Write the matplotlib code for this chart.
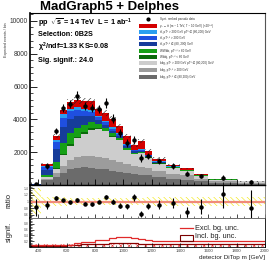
import numpy as np
import matplotlib
matplotlib.use("Agg")
import matplotlib.pyplot as plt
from matplotlib.patches import Rectangle
from matplotlib.lines import Line2D

plt.rcParams['font.family'] = ['Liberation Sans', 'DejaVu Sans']
plt.rcParams['hatch.linewidth'] = 0.4
plt.rcParams['mathtext.fontset'] = 'custom'
plt.rcParams['mathtext.rm'] = 'Liberation Sans'
plt.rcParams['mathtext.bf'] = 'Liberation Sans:bold'
plt.rcParams['mathtext.it'] = 'Liberation Sans:italic'

# ---------------- data ----------------
edges = [340, 420, 500, 550, 600, 650, 700, 750, 800, 850, 900, 950, 1000,
         1050, 1100, 1150, 1200, 1300, 1400, 1500, 1600, 1800, 2000]

bkg_dgray = [15, 280, 500, 750, 950, 1050, 1080, 1050, 1000, 950, 880, 800, 720,
             650, 620, 580, 480, 380, 320, 220, 120, 80]
bkg_mgray = [5, 100, 250, 400, 550, 650, 700, 720, 720, 700, 650, 620, 560,
             500, 480, 430, 380, 320, 260, 170, 100, 70]
bkg_lgray = [5, 80, 250, 650, 900, 1150, 1350, 1600, 1700, 1620, 1420, 1300, 850,
             720, 830, 650, 450, 340, 280, 180, 105, 70]
wbb_dkgreen = [2, 40, 60, 100, 110, 100, 90, 80, 60, 50, 50, 40, 30,
               25, 25, 20, 15, 10, 10, 5, 3, 2]
wwbb_green = [3, 120, 350, 650, 650, 550, 450, 370, 250, 170, 170, 130, 100,
              80, 70, 55, 40, 25, 25, 15, 8, 5]
tt_navy = [5, 300, 800, 1000, 850, 700, 550, 400, 220, 180, 130, 110, 90,
           70, 60, 45, 30, 20, 20, 10, 6, 4]
tt_blue = [2, 150, 400, 560, 470, 380, 300, 250, 180, 140, 120, 100, 80,
           60, 60, 40, 30, 20, 15, 10, 5, 3]
tt_lblue = [1, 60, 150, 220, 180, 150, 130, 110, 100, 100, 90, 80, 60,
            45, 45, 30, 25, 15, 10, 5, 3, 2]
signal_red = [2, 140, 230, 230, 390, 420, 460, 530, 420, 490, 540, 410, 500,
              300, 510, 230, 150, 80, 70, 35, 10, 4]

data_vals = [33, 1150, 3300, 4700, 4950, 5450, 4800, 4700, 4650, 4980, 4050, 3150, 2550,
             2760, 1650, 1780, 1450, 1160, 700, 550, 440, 195]
data_errs = [10, 150, 200, 250, 250, 300, 250, 250, 250, 300, 250, 250, 250,
             250, 250, 200, 200, 180, 150, 150, 150, 130]

ratio_band = [0.40, 0.15, 0.15, 0.13, 0.12, 0.12, 0.12, 0.12, 0.12, 0.12, 0.12, 0.12, 0.12,
              0.12, 0.12, 0.13, 0.13, 0.14, 0.14, 0.15, 0.15, 0.15]

signif_excl = [0.07, 0.07, 0.07, 0.07, 0.07, 0.13, 0.18, 0.18, 0.24, 0.24, 0.32, 0.33, 0.33,
               0.30, 0.27, 0.25, 0.20, 0.20, 0.20, 0.20, 0.20, 0.20]
signif_incl = [0.03, 0.03, 0.04, 0.05, 0.06, 0.08, 0.10, 0.10, 0.12, 0.12, 0.14, 0.14, 0.14,
               0.13, 0.12, 0.11, 0.09, 0.09, 0.09, 0.09, 0.09, 0.09]

legend_labels = [
    "Synt. ranked pseudo data",
    "y₁ → t̄t (m ~ 1 TeV, Γ ~ 10 GeV) (×20¹ᐟ²)",
    "tt̄, pT¹ > 200 GeV pT² ∈ (80,200) GeV",
    "tt̄, pT¹˒² > 200 GeV",
    "tt̄, pT¹˒² ∈ (80, 200) GeV",
    "WWbb, pT¹˒² > 60 GeV",
    "Wbbj, pT¹˒² < 60 GeV",
    "bkg, pT¹ > 200 GeV pT² ∈ (80,200) GeV",
    "bkg, pT¹˒² > 200 GeV",
    "bkg, pT¹˒² ∈ (80,200) GeV",
]

main_yticks = [2000, 4000, 6000, 8000, 10000]
bottom_xticks = [400, 600, 800, 1000, 1200, 1400, 1600, 1800, 2000]

# ---------------- figure ----------------
W, H = 274, 267
fig = plt.figure(figsize=(W / 100, H / 100), dpi=100)

def fa(x0, y0, x1, y1):
    return [x0 / W, 1 - y1 / H, (x1 - x0) / W, (y1 - y0) / H]

ax = fig.add_axes(fa(30, 13, 265, 185))
axr = fig.add_axes(fa(30, 185, 265, 218))
axs = fig.add_axes(fa(30, 218, 265, 247))

edges_a = np.array(edges, float)
centers = 0.5 * (edges_a[1:] + edges_a[:-1])

layers = [
    (bkg_dgray, '#6b6b6b'),
    (bkg_mgray, '#9c9c9c'),
    (bkg_lgray, '#cdcdcd'),
    (wbb_dkgreen, '#0b6a0b'),
    (wwbb_green, '#16a016'),
    (tt_navy, '#163c9a'),
    (tt_blue, '#1f4fe0'),
    (tt_lblue, '#2a9ef0'),
    (signal_red, '#d40000'),
]
base = np.zeros(len(edges) - 1)
for vals, col in layers:
    v = np.array(vals, float)
    ax.stairs(base + v, edges_a, baseline=base, fill=True, color=col, lw=0)
    base = base + v
total = base

unc = 0.035 * total + 20
ax.stairs(total + unc, edges_a, baseline=total - unc, fill=True,
          facecolor='none', edgecolor='#222222', hatch='//////', lw=0)

dv = np.array(data_vals, float)
de = np.array(data_errs, float)
ax.errorbar(centers, dv, yerr=de, fmt='o', ms=2.2, color='black',
            elinewidth=0.8, capsize=0)

ax.set_xlim(edges[0], edges[-1])
ax.set_ylim(0, 10480)
ax.set_yticks(main_yticks)
ax.set_yticks(np.arange(400, 10480, 400), minor=True)
ax.set_xticks(bottom_xticks)
ax.set_xticks(np.arange(350, 2001, 50), minor=True)
ax.tick_params(axis='both', which='both', direction='in', top=False, right=False)
ax.tick_params(axis='y', which='major', length=5, width=0.6, labelsize=4.8, pad=1.5, labelcolor='#333333')
ax.tick_params(axis='y', which='minor', length=2.5, width=0.5)
ax.tick_params(axis='x', which='major', length=4, width=0.6, labelbottom=False)
ax.tick_params(axis='x', which='minor', length=2, width=0.5)
for s in ['top', 'right', 'bottom']:
    ax.spines[s].set_linewidth(0.8)
ax.spines['left'].set_linewidth(1.2)
ax.spines['right'].set_color('#555555')

ax.text(4 / W, 1 - 40 / H, "Expected events / bin", transform=fig.transFigure,
        rotation=90, fontsize=2.6, ha='left', va='center', color='#333333')

fig.text(109 / W, 1 - 7 / H, "MadGraph5 + Delphes", fontsize=9.5, fontweight='bold',
         ha='center', va='center')

tx = 38 / W
fig.text(tx, 1 - 23 / H, "pp  $\\sqrt{\\mathbf{s}}$ = 14 TeV  L = 1 ab$^{\\mathbf{-1}}$",
         fontsize=5.2, fontweight='bold', va='center')
fig.text(tx, 1 - 35 / H, "Selection: 0B2S", fontsize=5.2, fontweight='bold', va='center')
fig.text(tx, 1 - 47 / H, "$\\mathbf{\\chi^2}$/ndf=1.33 KS=0.08", fontsize=5.2,
         fontweight='bold', va='center')
fig.text(tx, 1 - 60 / H, "Sig. signif.: 24.0", fontsize=5.2, fontweight='bold', va='center')

# legend
leg_rows = [19.3, 26, 32.3, 38.3, 44.3, 51, 57.3, 63.3, 70, 76.7]
leg_cols = ['#d40000', '#2a9ef0', '#1f4fe0', '#163c9a', '#16a016', '#0b6a0b',
            '#cdcdcd', '#9c9c9c', '#6b6b6b']
for i, (yy, lab) in enumerate(zip(leg_rows, legend_labels)):
    yf = 1 - yy / H
    if i == 0:
        fig.add_artist(Line2D([148 / W], [yf], marker='o', ms=2.0, color='k',
                              transform=fig.transFigure))
    else:
        fig.add_artist(Rectangle((139 / W, yf - 2.0 / H), 18 / W, 4.0 / H,
                                 transform=fig.transFigure, facecolor=leg_cols[i - 1],
                                 edgecolor='none'))
    fig.text(160 / W, yf, lab, fontsize=2.2, va='center', color='#333333')

# ---------------- ratio ----------------
rb = np.array(ratio_band)
axr.stairs(1 + rb, edges_a, baseline=1 - rb, fill=True, facecolor='none',
           edgecolor='#f2e600', hatch='\\\\\\\\\\\\', lw=0)
axr.axhline(1.0, color='#f08a7a', lw=1.6)
ratio = dv / total
rerr = de / total
axr.errorbar(centers, ratio, yerr=rerr, fmt='o', ms=2.2, color='black',
             elinewidth=0.8, capsize=0)
axr.set_xlim(edges[0], edges[-1])
axr.set_ylim(0.5, 1.5)
axr.set_yticks([0.6, 0.8, 1.0, 1.2, 1.4])
axr.set_yticks(np.arange(0.55, 1.5, 0.05), minor=True)
axr.set_yticklabels(['0.6', '0.8', '1', '1.2', '1.4'])
axr.set_xticks(bottom_xticks)
axr.set_xticks(np.arange(350, 2001, 50), minor=True)
axr.tick_params(axis='both', which='both', direction='in', labelbottom=False)
axr.tick_params(axis='y', which='major', length=3, width=0.5, labelsize=2.4, pad=1,
                labelcolor='#555555')
axr.tick_params(axis='y', which='minor', length=1.5, width=0.4)
axr.tick_params(axis='x', which='major', length=3, width=0.5)
axr.tick_params(axis='x', which='minor', length=1.5, width=0.4)
axr.spines['left'].set_linewidth(1.2)
axr.spines['top'].set_linewidth(1.0)
axr.spines['bottom'].set_color('#555555')
axr.spines['right'].set_color('#777777')
for s in ['bottom', 'right']:
    axr.spines[s].set_linewidth(0.6)
fig.text(9 / W, 1 - 201 / H, "ratio", rotation=90, fontsize=5.5, ha='center',
         va='center', color='#222222')

# ---------------- significance ----------------
axs.stairs(np.full(len(edges) - 1, 0.09), edges_a, baseline=0.0, fill=True,
           facecolor='none', edgecolor='#e03030', hatch='xxxx', lw=0)
axs.stairs(signif_incl, edges_a, color='#8b0000', lw=0.9, baseline=None)
axs.stairs(signif_excl, edges_a, color='#e02a2a', lw=0.9, baseline=None)
axs.set_xlim(edges[0], edges[-1])
axs.set_ylim(0, 1.0)
axs.set_yticks([0.2, 0.4, 0.6, 0.8])
axs.set_yticks(np.arange(0.05, 1.0, 0.05), minor=True)
axs.set_xticks(bottom_xticks)
axs.set_xticks(np.arange(350, 2001, 50), minor=True)
axs.tick_params(axis='both', which='both', direction='in')
axs.tick_params(axis='y', which='major', length=3, width=0.5, labelsize=2.4, pad=1,
                labelcolor='#555555')
axs.tick_params(axis='y', which='minor', length=1.5, width=0.4)
axs.tick_params(axis='x', which='major', length=3, width=0.5, labelsize=3.2, pad=1.2,
                labelcolor='#444444')
axs.tick_params(axis='x', which='minor', length=1.5, width=0.4)
axs.spines['left'].set_linewidth(1.2)
for s in ['top', 'bottom', 'right']:
    axs.spines[s].set_linewidth(0.6)
axs.spines['top'].set_color('#555555')
fig.text(9 / W, 1 - 232 / H, "signif.", rotation=90, fontsize=5.5, ha='center',
         va='center', color='#222222')

fig.add_artist(Line2D([180 / W, 193 / W], [1 - 228 / H] * 2, color='#e02a2a', lw=0.9,
                      transform=fig.transFigure))
fig.text(195 / W, 1 - 228 / H, "Excl. bg. unc.", fontsize=5.3, va='center', color='#222222')
fig.add_artist(Rectangle((180 / W, 1 - 241 / H), 13 / W, 6 / H, transform=fig.transFigure,
                         facecolor='none', edgecolor='#7a0000', lw=0.8))
fig.text(195 / W, 1 - 237 / H, "Incl. bg. unc.", fontsize=5.3, va='center', color='#222222')

fig.text(265 / W, 1 - 258 / H, "detector DiTop m [GeV]", fontsize=4.6, ha='right',
         va='center', color='#222222')

fig.savefig("out.png", dpi=100)
